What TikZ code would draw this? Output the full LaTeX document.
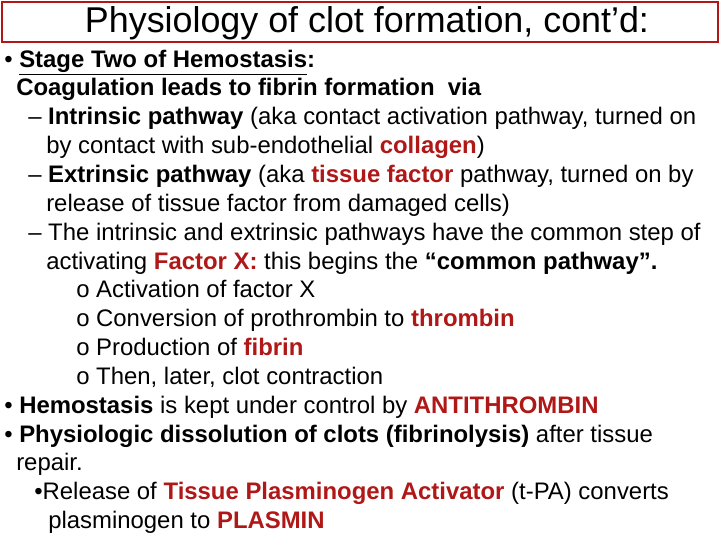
\documentclass[tikz,border=0pt]{standalone}
\usepackage{fontspec}
\setmainfont{Liberation Sans}
\usetikzlibrary{positioning}
\definecolor{darkred}{RGB}{176,24,24}
\newcommand{\hl}[1]{\textcolor{darkred}{\textbf{#1}}}
\tikzset{txt/.style={anchor=base west,inner sep=0pt,font=\fontsize{17}{20}\selectfont}}

\begin{document}
\begin{tikzpicture}[x=0.025cm,y=-0.025cm]
        \useasboundingbox (0,0) rectangle (720,540);
        % title bar
        \draw[darkred,line width=1.5pt] (2,2) rectangle (718,42);
        \node[anchor=base,inner sep=0pt,font=\fontsize{25.5}{28}\selectfont] (title) at (367,32) {Physiology of clot formation, cont’d:};

        % stage two
        \node[txt] (s1) at (4,67) {• \textbf{\underline{Stage Two of Hemostasis}:}};
        \node[txt] (s2) at (16,95) {\textbf{Coagulation leads to fibrin formation\ \ via}};
        \node[txt] (s3) at (28,124) {– \textbf{Intrinsic pathway} (aka contact activation pathway, turned on};
        \node[txt] (s4) at (46,153) {by contact with sub-endothelial \hl{collagen})};
        \node[txt] (s5) at (28,182) {– \textbf{Extrinsic pathway} (aka \hl{tissue factor} pathway, turned on by};
        \node[txt] (s6) at (46,211) {release of tissue factor from damaged cells)};
        \node[txt] (s7) at (28,240) {– The intrinsic and extrinsic pathways have the common step of};
        \node[txt] (s8) at (46,269) {activating \hl{Factor X:} this begins the \textbf{“common pathway”.}};

        % common pathway steps
        \node[txt] (c1) at (76,297) {o Activation of factor X};
        \node[txt] (c2) at (76,326) {o Conversion of prothrombin to \hl{thrombin}};
        \node[txt] (c3) at (76,355) {o Production of \hl{fibrin}};
        \node[txt] (c4) at (76,384) {o Then, later, clot contraction};

        % control and dissolution
        \node[txt] (k1) at (4,413) {• \textbf{Hemostasis} is kept under control by \hl{ANTITHROMBIN}};
        \node[txt] (k2) at (4,442) {• \textbf{Physiologic dissolution of clots (fibrinolysis)} after tissue};
        \node[txt] (k3) at (16,470) {repair.};
        \node[txt] (k4) at (34,499) {•Release of \hl{Tissue Plasminogen Activator} (t-PA) converts};
        \node[txt] (k5) at (48,528) {plasminogen to \hl{PLASMIN}};
      \end{tikzpicture}
\end{document}
